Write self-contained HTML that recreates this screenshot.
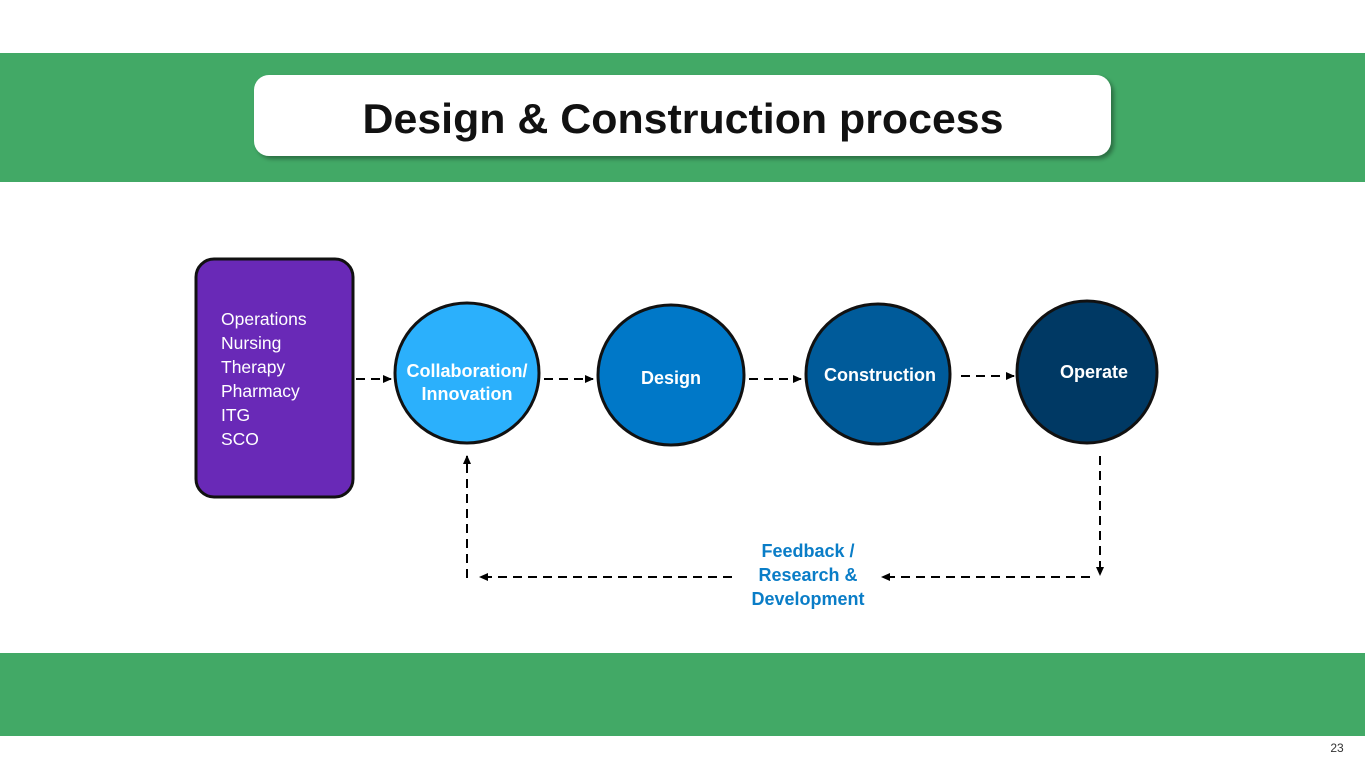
<!DOCTYPE html>
<html><head><meta charset="utf-8"><style>
html,body{margin:0;padding:0;background:#fff;width:1365px;height:768px;overflow:hidden}
svg{display:block}
text{font-family:"Liberation Sans","DejaVu Sans",sans-serif}
</style></head><body>
<svg width="1365" height="768" viewBox="0 0 1365 768" xmlns="http://www.w3.org/2000/svg">
<defs>
<marker id="ah" markerWidth="10" markerHeight="10" refX="8" refY="5" orient="auto" markerUnits="userSpaceOnUse">
<path d="M0,1 L9,5 L0,9 Z" fill="#000"/></marker>
<filter id="sh" x="-5%" y="-20%" width="110%" height="150%"><feDropShadow dx="3" dy="3" stdDeviation="2" flood-color="#000" flood-opacity="0.35"/></filter>
</defs>
<rect x="0" y="53" width="1365" height="129" fill="#42a966"/>
<rect x="0" y="653" width="1365" height="83" fill="#42a966"/>
<rect x="254" y="75" width="857" height="81" rx="15" fill="#fff" filter="url(#sh)"/>
<text x="683" y="133" text-anchor="middle" font-size="42" font-weight="bold" fill="#111" textLength="641" lengthAdjust="spacingAndGlyphs">Design &amp; Construction process</text>

<rect x="196" y="259" width="157" height="238" rx="18" fill="#6929b7" stroke="#111" stroke-width="3"/>
<g fill="#fff" font-size="17.5">
<text x="221" y="325">Operations</text>
<text x="221" y="349">Nursing</text>
<text x="221" y="373">Therapy</text>
<text x="221" y="397">Pharmacy</text>
<text x="221" y="421">ITG</text>
<text x="221" y="445">SCO</text>
</g>

<ellipse cx="467" cy="373" rx="72" ry="70" fill="#2bb0fc" stroke="#111" stroke-width="3"/>
<ellipse cx="671" cy="375" rx="73" ry="70" fill="#0078c8" stroke="#111" stroke-width="3"/>
<ellipse cx="878" cy="374" rx="72" ry="70" fill="#005b9a" stroke="#111" stroke-width="3"/>
<ellipse cx="1087" cy="372" rx="70" ry="71" fill="#003964" stroke="#111" stroke-width="3"/>
<g fill="#fff" font-size="18" font-weight="bold" text-anchor="middle">
<text x="467" y="377">Collaboration/</text>
<text x="467" y="400">Innovation</text>
<text x="671" y="384">Design</text>
<text x="880" y="381">Construction</text>
<text x="1094" y="378">Operate</text>
</g>

<g stroke="#000" stroke-width="2" stroke-dasharray="9,6" fill="none">
<line x1="356" y1="379" x2="391" y2="379" marker-end="url(#ah)"/>
<line x1="544" y1="379" x2="593" y2="379" marker-end="url(#ah)"/>
<line x1="749" y1="379" x2="801" y2="379" marker-end="url(#ah)"/>
<line x1="961" y1="376" x2="1014" y2="376" marker-end="url(#ah)"/>
<line x1="1100" y1="456" x2="1100" y2="575" marker-end="url(#ah)"/>
<line x1="1090" y1="577" x2="882" y2="577" marker-end="url(#ah)"/>
<line x1="732" y1="577" x2="480" y2="577" marker-end="url(#ah)"/>
<line x1="467" y1="578" x2="467" y2="456" marker-end="url(#ah)"/>
</g>
<g fill="#0a7dc7" font-size="18" font-weight="bold" text-anchor="middle">
<text x="808" y="557">Feedback /</text>
<text x="808" y="581">Research &amp;</text>
<text x="808" y="605">Development</text>
</g>
<text x="1337" y="752" font-size="12" fill="#333" text-anchor="middle">23</text>
</svg>
</body></html>
